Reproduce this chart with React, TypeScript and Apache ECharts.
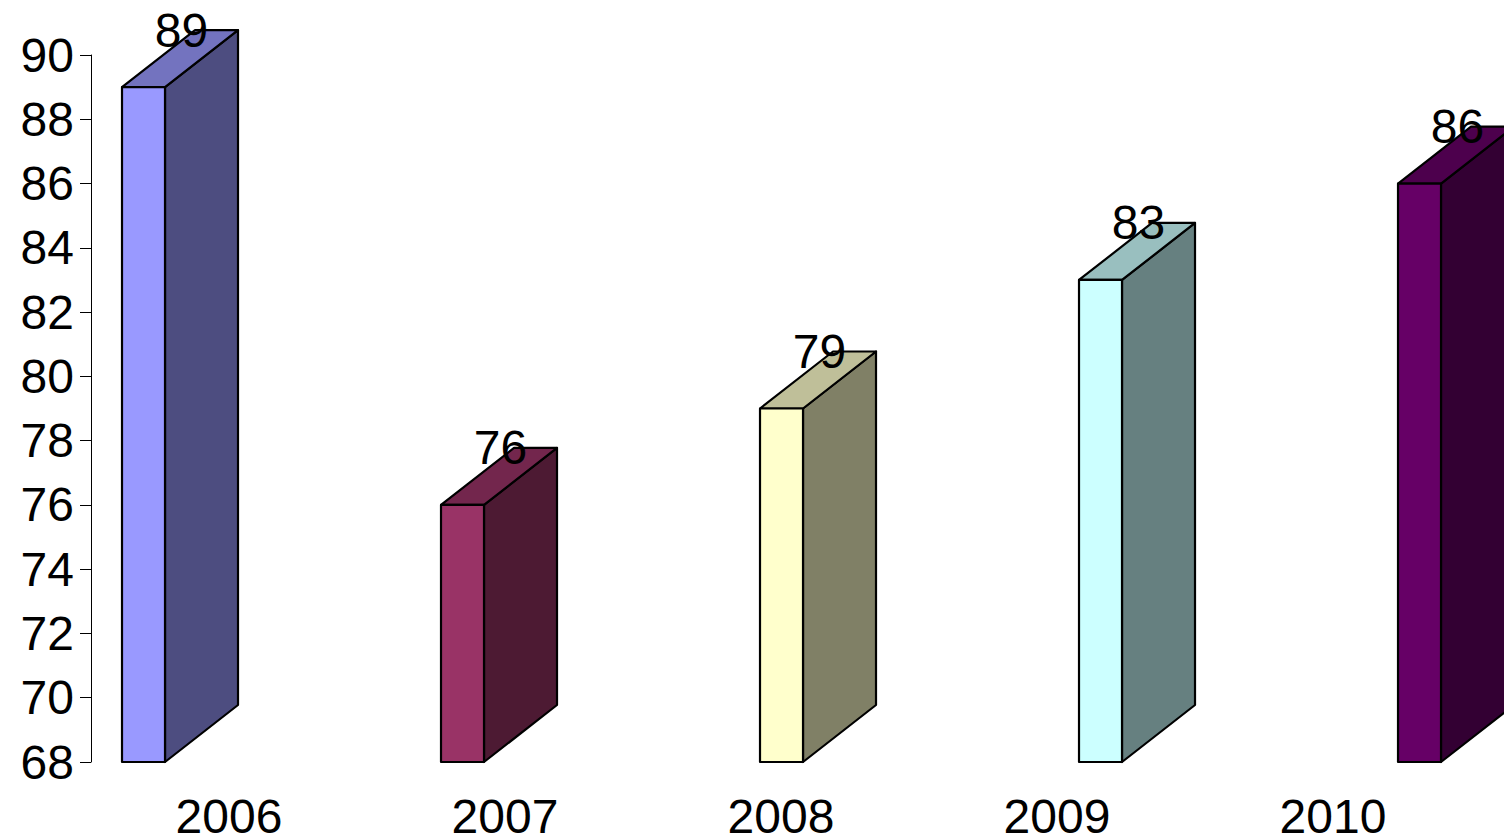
import React, { useEffect, useRef } from "react";
import * as echarts from "echarts";

const categories = ["2006", "2007", "2008", "2009", "2010"];
const values = [89, 76, 79, 83, 86];
const yTicks = { min: 68, max: 90, interval: 2 };

const frontColors = ["#9999FF", "#993366", "#FFFFCC", "#CCFFFF", "#660066"];
const topColors = ["#7373BF", "#73264D", "#BFBF99", "#99BFBF", "#4D004D"];
const sideColors = ["#4D4D80", "#4D1A33", "#808066", "#668080", "#330033"];

const FONT = "'Liberation Sans', Arial, sans-serif";

export default function App() {
  const ref = useRef<HTMLDivElement>(null);
  useEffect(() => {
    document.body.style.margin = "0";
    document.body.style.overflow = "hidden";
    const chart = echarts.init(ref.current!, null, { renderer: "svg" });
    const DX = 73;
    const DY = 57;
    const BW = 43;
    const option: any = {
      animation: false,
      backgroundColor: "#ffffff",
      grid: { left: 91, top: 55, height: 707, width: 1380, containLabel: false, outerBoundsMode: "none" },
      xAxis: [
        {
          type: "category",
          data: categories,
          axisLine: { show: false },
          axisTick: { show: false },
          axisLabel: { fontSize: 48, color: "#000", fontFamily: FONT, margin: 30 },
        },
        {
          type: "value",
          min: -0.1646,
          max: 4.1614,
          show: false,
        },
      ],
      yAxis: {
        type: "value",
        min: yTicks.min,
        max: yTicks.max,
        interval: yTicks.interval,
        splitLine: { show: false },
        axisLine: { show: true, onZero: false, lineStyle: { color: "#000", width: 1 } },
        axisTick: { show: true, length: 11, lineStyle: { color: "#000" } },
        axisLabel: { fontSize: 48, color: "#000", fontFamily: FONT, margin: 17 },
      },
      series: [
        {
          type: "custom",
          xAxisIndex: 1,
          clip: false,
          data: values.map((v, i) => [i, v]),
          renderItem: (params: any, api: any) => {
            const i = api.value(0);
            const v = api.value(1);
            const top = api.coord([i, v]);
            const bot = api.coord([i, yTicks.min]);
            const cx = top[0];
            const xl = cx - BW / 2;
            const xr = cx + BW / 2;
            const yt = top[1];
            const yb = bot[1];
            const stroke = { stroke: "#000", lineWidth: 2.2, lineJoin: "round" };
            return {
              type: "group",
              children: [
                {
                  type: "polygon",
                  shape: { points: [[xr, yt], [xr + DX, yt - DY], [xr + DX, yb - DY], [xr, yb]] },
                  style: { fill: sideColors[i], ...stroke },
                },
                {
                  type: "polygon",
                  shape: { points: [[xl, yt], [xl + DX, yt - DY], [xr + DX, yt - DY], [xr, yt]] },
                  style: { fill: topColors[i], ...stroke },
                },
                {
                  type: "rect",
                  shape: { x: xl, y: yt, width: BW, height: yb - yt },
                  style: { fill: frontColors[i], ...stroke },
                },
                {
                  type: "text",
                  x: cx + 38,
                  y: yt - DY,
                  style: {
                    text: String(v),
                    fontSize: 48,
                    fontFamily: FONT,
                    fill: "#000",
                    align: "center",
                    verticalAlign: "middle",
                  },
                },
              ],
            };
          },
        },
      ],
    };
    chart.setOption(option);
    return () => chart.dispose();
  }, []);
  return <div ref={ref} style={{ width: 1504, height: 835 }} />;
}
